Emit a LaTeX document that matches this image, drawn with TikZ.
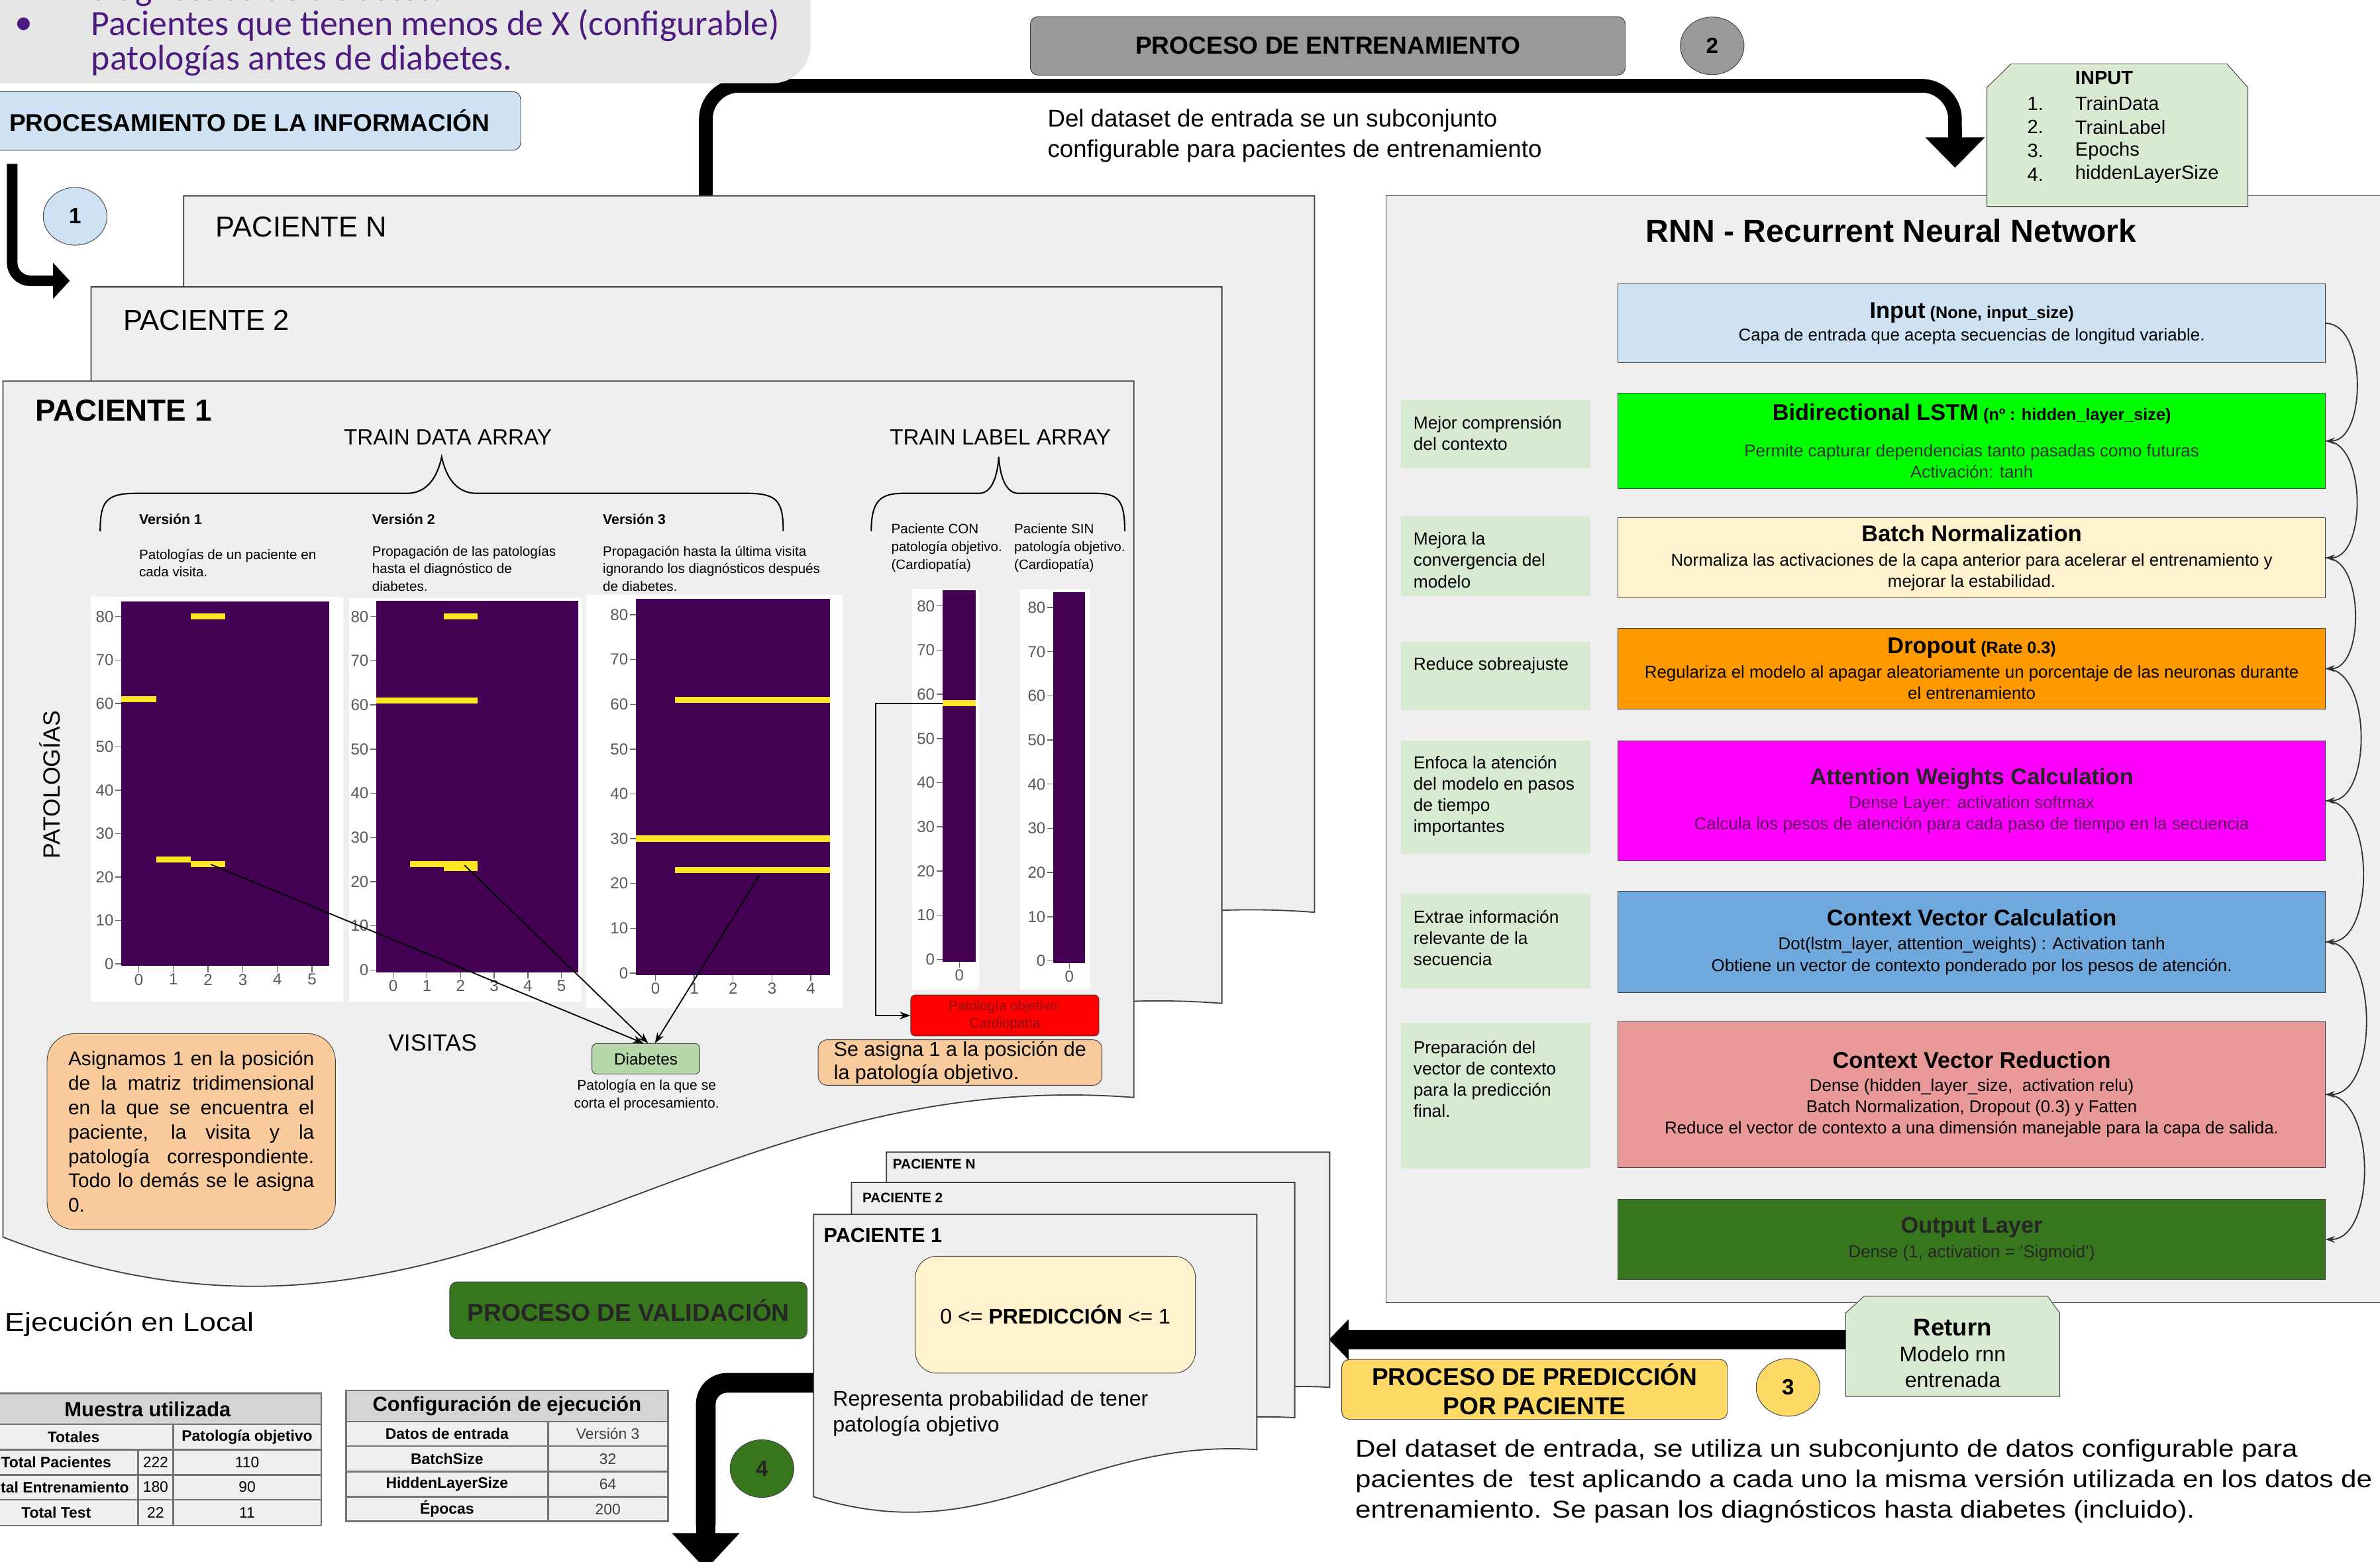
\documentclass[tikz,border=0pt]{standalone}
\usepackage{fontspec}
\setmainfont{Liberation Sans}
\newfontfamily\calibfont{Carlito}
\newfontfamily\widesans{Liberation Sans}[FakeStretch=1.15]
\usetikzlibrary{shapes.geometric,arrows.meta}
\definecolor{procblue}{HTML}{CFE2F3}
\definecolor{greyhead}{HTML}{999999}
\definecolor{notegreen}{HTML}{D9EAD3}
\definecolor{diabgreen}{HTML}{B6D7A8}
\definecolor{peach}{HTML}{F9CB9C}
\definecolor{pagegrey}{HTML}{EFEFEF}
\definecolor{critgrey}{HTML}{E6E6E6}
\definecolor{hdrgrey}{HTML}{D4D4D4}
\definecolor{lemon}{HTML}{FFF2CC}
\definecolor{gold}{HTML}{FFD966}
\definecolor{leafgreen}{HTML}{38761D}
\definecolor{lstmgreen}{HTML}{00FF00}
\definecolor{dropoutorange}{HTML}{FF9900}
\definecolor{attnmagenta}{HTML}{FF00FF}
\definecolor{ctxblue}{HTML}{6FA8DC}
\definecolor{redpink}{HTML}{EA9999}
\definecolor{purpletxt}{HTML}{4B1C7D}
\definecolor{viridislow}{HTML}{440154}
\definecolor{viridishigh}{HTML}{FDE725}
\definecolor{alertred}{HTML}{FF0000}
\definecolor{darkred}{HTML}{8B1010}
\definecolor{attntxt}{HTML}{5A0A5A}

\begin{document}
\begin{tikzpicture}[x=1pt,y=-1pt]
\tikzstyle{hdrbox}=[draw=black!75, rounded corners=5pt, inner sep=0pt, align=center, font=\fontsize{16.2}{19}\selectfont\bfseries]
\tikzstyle{num}=[ellipse, draw=black!75, minimum width=42pt, minimum height=38pt, inner sep=0pt, font=\fontsize{14.5}{15}\selectfont\bfseries]
\tikzstyle{page}=[draw=black!75, fill=pagegrey, line width=0.8pt]
\tikzstyle{txt}=[inner sep=0pt, align=left]
\tikzstyle{layer}=[draw=black!75, minimum width=466pt, inner sep=0pt, align=center, font=\fontsize{11.3}{14}\selectfont]
\tikzstyle{notebox}=[fill=notegreen, minimum width=125pt, inner sep=0pt]
\tikzstyle{notetxt}=[txt, anchor=west, font=\fontsize{11.5}{14}\selectfont]
\tikzstyle{tick}=[inner sep=0pt, text=black!65, font=\fontsize{10.5}{10.5}\selectfont]
\tikzstyle{conn}=[draw=black, line width=0.8pt, -{Stealth[length=7pt,width=5pt]}]
\tikzstyle{arc}=[draw=black!80, line width=0.8pt, -{Stealth[length=6pt,width=4.5pt]}]
\tikzstyle{grid}=[draw=black!55, line width=1.2pt]
\tikzstyle{cellb}=[inner sep=0pt, font=\fontsize{10}{10}\selectfont\bfseries]
\tikzstyle{cellr}=[inner sep=0pt, font=\fontsize{10}{10}\selectfont]
\tikzstyle{hot}=[fill=viridishigh]

\useasboundingbox (0,0) rectangle (1568,1029);
\clip (0,0) rectangle (1568,1029);

% big arrows under the pages
\coordinate (trainA) at (465,131);
\coordinate (trainB) at (1288,110.5);
\draw[line width=9pt, rounded corners=22pt] (trainA) -- (465,56.5) -- (1288,56.5) -- (1288,92);
\draw[line width=9pt, -{Triangle[width=38pt,length=20pt]}] (1288,84) -- (trainB);
\coordinate (valA) at (545,911);
\coordinate (valB) at (465,1034);
\draw[line width=13pt, rounded corners=14pt] (valA) -- (465,911) -- (465,1005);
\draw[line width=13pt, -{Triangle[width=43pt,length=24pt]}] (465,1000) -- (valB);

% header area
\node[fill=critgrey, rounded corners=25pt, minimum width=564pt, minimum height=115pt, inner sep=0pt] (crit) at (252,-2.7) {};
\node[txt, anchor=west, text=purpletxt, font=\calibfont\fontsize{23.5}{23}\selectfont] (crittxt) at (60,17) {diagnóstico de diabetes.\\Pacientes que tienen menos de X (configurable)\\patologías antes de diabetes.};
\node[txt, text=purpletxt, font=\calibfont\fontsize{23.5}{23}\selectfont] (bullet) at (15.5,17) {•};

\node[hdrbox, fill=procblue, minimum width=353pt, minimum height=38.6pt] (proc) at (166.5,79.7) {};
\node[txt, anchor=west, font=\fontsize{16.2}{19}\selectfont\bfseries] (proctxt) at (6,79.7) {PROCESAMIENTO DE LA INFORMACIÓN};
\node[num, fill=procblue] (n1) at (49.5,142.5) {1};
\coordinate (arrA) at (8,108);
\coordinate (arrB) at (46,185);
\draw[line width=7pt, rounded corners=12pt] (arrA) -- (8,185) -- (38,185);
\draw[line width=7pt, -{Triangle[width=23pt,length=11pt]}] (30,185) -- (arrB);

\node[hdrbox, fill=greyhead, minimum width=392pt, minimum height=38.5pt] (ent) at (874.8,30.2) {PROCESO DE ENTRENAMIENTO};
\node[num, fill=greyhead] (n2) at (1128,30.2) {2};
\node[txt, anchor=west, font=\fontsize{16}{20}\selectfont] (entdesc) at (690,89.5) {Del dataset de entrada se un subconjunto\\configurable para pacientes de entrenamiento};

% patient pages
\foreach \dx/\dy in {119/-122, 58/-62, 0/0}
  \draw[page, shift={(\dx,\dy)}] (2,251) -- (747,251) -- (747,723) .. controls (450,700) and (300,930) .. (2,815) -- cycle;
\node[txt, anchor=west, font=\fontsize{19}{21}\selectfont] (pN) at (142,149.5) {PACIENTE N};
\node[txt, anchor=west, font=\fontsize{19}{21}\selectfont] (p2) at (81,211) {PACIENTE 2};
\node[txt, anchor=west, font=\fontsize{20}{22}\selectfont\bfseries] (p1) at (23,270.5) {PACIENTE 1};
\node[txt, font=\fontsize{14.5}{16}\selectfont] (tda) at (295,288) {TRAIN DATA ARRAY};
\node[txt, font=\fontsize{14.5}{16}\selectfont] (tla) at (659,288) {TRAIN LABEL ARRAY};
\draw[line width=0.9pt] (66,350) .. controls (66,330) and (70,325) .. (90,325) -- (268,325) .. controls (281,325) and (288,315) .. (291,301) .. controls (294,315) and (301,325) .. (314,325) -- (492,325) .. controls (512,325) and (516,330) .. (516,350);
\draw[line width=0.9pt] (574,350) .. controls (574,330) and (580,325) .. (595,325) -- (645,325) .. controls (653,325) and (657,315) .. (658,301) .. controls (659,315) and (663,325) .. (671,325) -- (722,325) .. controls (737,325) and (741,330) .. (741,350);

% heatmaps
\foreach \k/\pl/\pt/\pr/\pb/\xl/\xr/\yz/\ys/\nc in {1/60/393/226/660/80/217/635/2.86/6, 2/230/394/383/660/248/381/639/2.91/6, 3/386/392/555/664/419/547/641/2.95/5, 4/601/388/645/652/621/643/632/2.91/1, 5/672/388/718/652/694/715/633/2.91/1}
{
  \fill[white] (\pl,\pt) rectangle (\pr,\pb);
  \fill[viridislow] (\xl,{\yz-83.5*\ys}) rectangle (\xr,{\yz+0.5*\ys});
  \foreach \v in {0,10,...,80} {
    \draw[black!60, line width=0.6pt] ({\xl-4},{\yz-\v*\ys}) -- (\xl,{\yz-\v*\ys});
    \node[tick, anchor=east] (yt\k-\v) at ({\xl-5},{\yz-\v*\ys}) {\v};
  }
  \foreach \c in {1,...,\nc} {
    \pgfmathtruncatemacro\lab{\c-1}
    \draw[black!60, line width=0.6pt] ({\xl+(\c-0.5)*(\xr-\xl)/\nc},{\yz+0.5*\ys}) -- ++(0,4);
    \node[tick, anchor=north] (xt\k-\lab) at ({\xl+(\c-0.5)*(\xr-\xl)/\nc},{\yz+0.5*\ys+5}) {\lab};
  }
}
\foreach \c/\r in {0/61,2/80,1/24,2/23}
  \fill[hot] ({80+\c*22.83},{635-\r*2.86-2}) rectangle ++(22.83,4);
\foreach \c/\r in {0/61,1/61,2/61,2/80,1/24,2/24,2/23}
  \fill[hot] ({248+\c*22.17},{639-\r*2.91-2}) rectangle ++(22.17,4);
\foreach \c/\r in {1/61,2/61,3/61,4/61,0/30,1/30,2/30,3/30,4/30,1/23,2/23,3/23,4/23}
  \fill[hot] ({419+\c*25.6},{641-\r*2.95-2}) rectangle ++(25.6,4);
\fill[hot] (621,{632-58*2.91-2}) rectangle ++(22,4);

\foreach \x/\t/\n in {91.5/1/v1, 245/2/v2, 397/3/v3}
  \node[txt, anchor=west, font=\fontsize{9.3}{11}\selectfont\bfseries] (\n) at (\x,342) {Versión \t};
\node[txt, anchor=west, font=\fontsize{9}{11.6}\selectfont] (d1) at (91.5,371) {Patologías de un paciente en\\cada visita.};
\node[txt, anchor=west, font=\fontsize{9}{11.6}\selectfont] (d2) at (245,374.5) {Propagación de las patologías\\hasta el diagnóstico de\\diabetes.};
\node[txt, anchor=west, font=\fontsize{9}{11.6}\selectfont] (d3) at (397,374.5) {Propagación hasta la última visita\\ignorando los diagnósticos después\\de diabetes.};
\node[txt, anchor=west, font=\fontsize{9}{11.6}\selectfont] (lc) at (587,361) {Paciente CON\\patología objetivo.\\(Cardiopatía)};
\node[txt, anchor=west, font=\fontsize{9}{11.6}\selectfont] (ls) at (668,361) {Paciente SIN\\patología objetivo.\\(Cardiopatía)};

\node[txt, rotate=90, font=\fontsize{15.5}{17}\selectfont] (ylab) at (33,517) {PATOLOGÍAS};
\node[txt, font=\fontsize{15.5}{17}\selectfont] (xlab) at (285,687) {VISITAS};

\node[draw=black!75, fill=diabgreen, rounded corners=3pt, minimum width=71pt, minimum height=20pt, inner sep=0pt, font=\fontsize{10.6}{12}\selectfont] (diab) at (425.5,697.5) {Diabetes};
\node[txt, align=center, font=\fontsize{9.2}{11.6}\selectfont] (diabnote) at (426,721.5) {Patología en la que se\\corta el procesamiento.};
\coordinate (c1cell) at (139,569.5);
\coordinate (c2cell) at (306,570);
\coordinate (c3cell) at (500,577);
\draw[conn] (c1cell) -- ([xshift=-1.5pt]diab.north);
\draw[conn] (c2cell) -- ([xshift=1.5pt]diab.north);
\draw[conn] (c3cell) -- ([xshift=6pt]diab.north);

\node[draw=black!75, fill=alertred, rounded corners=3pt, minimum width=124pt, minimum height=27pt, inner sep=0pt, align=center, text=darkred, font=\fontsize{9}{11.7}\selectfont] (red) at (662,669) {Patología objetivo:\\Cardiopatía};
\coordinate (labcell) at (621,463.5);
\draw[conn] (labcell) -- ++(-44,0) |- (red.west);

\node[draw=black!75, fill=peach, rounded corners=18pt, minimum width=190pt, minimum height=129pt, text width=162pt, inner sep=0pt, align=justify, font=\fontsize{13}{16.1}\selectfont] (asig) at (126,745.5) {\hyphenpenalty=10000\tolerance=9999 Asignamos 1 en la posición\linebreak de la matriz tridimensional\linebreak en la que se encuentra el\linebreak paciente, la visita y la\linebreak patología correspondiente.\linebreak Todo lo demás se le asigna\linebreak 0.};
\node[draw=black!75, fill=peach, rounded corners=6pt, minimum width=187pt, minimum height=30pt, inner sep=0pt, align=left, font=\fontsize{13.3}{15.3}\selectfont] (seasig) at (632.5,700) {Se asigna 1 a la posición de\\la patología objetivo.};

% network
\node[draw=black!75, fill=pagegrey, minimum width=687pt, minimum height=729pt, inner sep=0pt] (rnn) at (1256.5,493.5) {};
\node[txt, font=\fontsize{21}{23}\selectfont\bfseries] (rnntitle) at (1246,151.8) {RNN - Recurrent Neural Network};

\node[layer, fill=procblue, minimum height=52pt] (lin) at (1299,213) {{\fontsize{15}{17}\selectfont\bfseries Input} {\fontsize{11}{13}\selectfont\bfseries (None, input\_size)}\\[1pt]Capa de entrada que acepta secuencias de longitud variable.};
\node[layer, fill=lstmgreen, minimum height=63pt, text=black!80] (lbi) at (1299,290.5) {{\fontsize{15}{17}\selectfont\bfseries\color{black} Bidirectional LSTM} {\fontsize{11}{13}\selectfont\bfseries\color{black} (nº : hidden\_layer\_size)}\\[10pt]Permite capturar dependencias tanto pasadas como futuras\\Activación: tanh};
\node[layer, fill=lemon, minimum height=53pt] (lbn) at (1299,367.5) {{\fontsize{15}{17}\selectfont\bfseries Batch Normalization}\\[2pt]Normaliza las activaciones de la capa anterior para acelerar el entrenamiento y\\mejorar la estabilidad.};
\node[layer, fill=dropoutorange, minimum height=53pt] (ldr) at (1299,440.5) {{\fontsize{15}{17}\selectfont\bfseries Dropout} {\fontsize{11}{13}\selectfont\bfseries (Rate 0.3)}\\[2pt]Regulariza el modelo al apagar aleatoriamente un porcentaje de las neuronas durante\\el entrenamiento};
\node[layer, fill=attnmagenta, minimum height=79pt, text=attntxt] (lat) at (1299,527.5) {{\fontsize{15}{17}\selectfont\bfseries\color{black!85} Attention Weights Calculation}\\[2pt]Dense Layer: activation softmax\\Calcula los pesos de atención para cada paso de tiempo en la secuencia};
\node[layer, fill=ctxblue, minimum height=67pt] (lcc) at (1299,620.5) {{\fontsize{15}{17}\selectfont\bfseries Context Vector Calculation}\\[2pt]Dot(lstm\_layer, attention\_weights) : Activation tanh\\Obtiene un vector de contexto ponderado por los pesos de atención.};
\node[layer, fill=redpink, minimum height=96pt] (lcr) at (1299,721) {{\fontsize{15}{17}\selectfont\bfseries Context Vector Reduction}\\[1pt]Dense (hidden\_layer\_size,\ \ activation relu)\\Batch Normalization, Dropout (0.3) y Fatten\\Reduce el vector de contexto a una dimensión manejable para la capa de salida.};
\node[layer, fill=leafgreen, minimum height=53pt, text=black!85] (lout) at (1299,816.5) {{\fontsize{15}{17}\selectfont\bfseries Output Layer}\\[2pt]Dense (1, activation = 'Sigmoid')};
\foreach \a/\b in {lin/lbi,lbi/lbn,lbn/ldr,ldr/lat,lat/lcc,lcc/lcr,lcr/lout}
  \draw[arc] (\a.east) to[out=0,in=0,looseness=0.9] (\b.east);

\foreach \n/\y/\h in {na/286.1/45, nb/366.4/52.7, nc/445.5/45, nd/525.3/74.6, ne/619.8/62.4, nf/722/96}
  \node[notebox, minimum height=\h pt] (\n) at (985.5,\y) {};
\node[notetxt] (nta) at (931,285.5) {Mejor comprensión\\del contexto};
\node[notetxt] (ntb) at (931,369) {Mejora la\\convergencia del\\modelo};
\node[notetxt] (ntc) at (931,438.6) {Reduce sobreajuste};
\node[notetxt] (ntd) at (931,524.5) {Enfoca la atención\\del modelo en pasos\\de tiempo\\importantes};
\node[notetxt] (nte) at (931,618) {Extrae información\\relevante de la\\secuencia};
\node[notetxt] (ntf) at (931,711) {Preparación del\\vector de contexto\\para la predicción\\final.};

\draw[fill=notegreen, draw=black!75] (1309,136) -- (1309,57.6) -- (1325,42) -- (1467,42) -- (1481,57.6) -- (1481,136) -- cycle;
\node[txt, anchor=west, font=\fontsize{12.7}{14}\selectfont\bfseries] (inhead) at (1367,51.5) {INPUT};
\foreach \i/\t in {1/TrainData,2/TrainLabel,3/Epochs,4/hiddenLayerSize} {
  \node[txt, anchor=west, font=\fontsize{12.7}{14}\selectfont] (innum\i) at (1335.5,{52.5+\i*15.6}) {\i.};
  \node[txt, anchor=west, font=\fontsize{12.7}{14}\selectfont] (initem\i) at (1367,{52.5+\i*15.6}) {\t};
}

% prediction
\coordinate (retw) at (1220,882.5);
\coordinate (predtip) at (875.5,882.5);
\draw[line width=12.5pt, -{Triangle[width=26pt,length=13pt]}] (retw) -- (predtip);
\draw[fill=notegreen, draw=black!75] (1216,920) -- (1216,865) -- (1228,854) -- (1349,854) -- (1357,865) -- (1357,920) -- cycle;
\node[txt, align=center, font=\fontsize{14}{17}\selectfont] (ret) at (1286.5,891.5) {{\fontsize{16}{17}\selectfont\bfseries Return}\\Modelo rnn\\entrenada};
\node[hdrbox, fill=gold, minimum width=254pt, minimum height=39.4pt] (predbox) at (1011,915.3) {PROCESO DE PREDICCIÓN\\POR PACIENTE};
\node[num, fill=gold] (n3) at (1178,914) {3};
\node[txt, anchor=west, font=\widesans\fontsize{16}{20}\selectfont] (predesc) at (892.7,975.7) {Del dataset de entrada, se utiliza un subconjunto de datos configurable para\\pacientes de\ \ test aplicando a cada uno la misma versión utilizada en los datos de\\entrenamiento. Se pasan los diagnósticos hasta diabetes (incluido).};

\foreach \dx/\dy in {48/-41, 25/-21, 0/0}
  \draw[page, shift={(\dx,\dy)}] (536,800) -- (828,800) -- (828,955) .. controls (711.5,947) and (652.8,1023) .. (536,986) -- cycle;
\node[txt, anchor=west, font=\fontsize{9.1}{11}\selectfont\bfseries] (qN) at (588,767) {PACIENTE N};
\node[txt, anchor=west, font=\fontsize{9.1}{11}\selectfont\bfseries] (q2) at (568,789) {PACIENTE 2};
\node[txt, anchor=west, font=\fontsize{13.4}{15}\selectfont\bfseries] (q1) at (542.5,814) {PACIENTE 1};
\node[draw=black!75, fill=lemon, rounded corners=14pt, minimum width=184.5pt, minimum height=77pt, inner sep=0pt, font=\fontsize{14}{16}\selectfont] (predval) at (695.3,866.1) {0 <= \textbf{PREDICCIÓN} <= 1};
\node[txt, anchor=west, font=\fontsize{14}{17}\selectfont] (predmean) at (548.5,931.3) {Representa probabilidad de tener\\patología objetivo};

% validation
\node[hdrbox, fill=leafgreen, text=black!85, minimum width=235.5pt, minimum height=37.5pt] (val) at (414,863.2) {PROCESO DE VALIDACIÓN};
\node[num, fill=leafgreen, text=black!85] (n4) at (502,967.5) {4};
\node[txt, anchor=west, font=\widesans\fontsize{17}{19}\selectfont] (local) at (3,872.5) {Ejecución en Local};

\fill[hdrgrey] (-17,918) rectangle (211.6,938.3);
\fill[pagegrey] (-17,938.3) rectangle (211.6,1005);
\draw[grid] (-17,918) rectangle (211.6,1005);
\foreach \y in {938.3,955,971.5,988} \draw[grid] (-17,\y) -- (211.6,\y);
\draw[grid] (114,938.3) -- (114,1005);
\draw[grid] (91,955) -- (91,1005);
\node[inner sep=0pt, font=\fontsize{13.5}{14}\selectfont\bfseries] (mu) at (97.3,928.2) {Muestra utilizada};
\foreach \x/\y/\t/\n in {48.5/946.6/Totales/ta, 162.8/946.6/Patología objetivo/tb, 37/963.2/Total Pacientes/tc, 37/979.7/Total Entrenamiento/td, 37/996.5/Total Test/te}
  \node[cellb] (\n) at (\x,\y) {\t};
\foreach \x/\y/\t/\n in {102.5/963.2/222/tf, 162.8/963.2/110/tg, 102.5/979.7/180/th, 162.8/979.7/90/ti, 102.5/996.5/22/tj, 162.8/996.5/11/tk}
  \node[cellr] (\n) at (\x,\y) {\t};

\fill[hdrgrey] (228,916) rectangle (440,936.5);
\fill[pagegrey] (228,936.5) rectangle (440,1002.3);
\draw[grid] (228,916) rectangle (440,1002.3);
\foreach \y in {936.5,952.7,969.6,986} \draw[grid] (228,\y) -- (440,\y);
\draw[grid] (361,936.5) -- (361,1002.3);
\node[inner sep=0pt, font=\fontsize{13.5}{14}\selectfont\bfseries] (ce) at (334,926.2) {Configuración de ejecución};
\foreach \y/\t/\v/\n in {944.6/Datos de entrada/Versión 3/ca, 961.2/BatchSize/32/cb, 977.8/HiddenLayerSize/64/cc, 994.2/Épocas/200/cd} {
  \node[cellb] (\n) at (294.5,\y) {\t};
  \node[cellr, text=black!75] (\n v) at (400.5,\y) {\v};
}
\end{tikzpicture}
\end{document}
